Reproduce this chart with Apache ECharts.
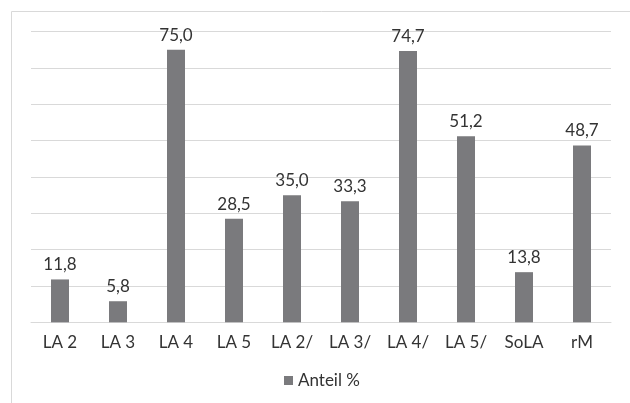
<!DOCTYPE html>
<html>
<head>
<meta charset="utf-8">
<script src="https://cdn.jsdelivr.net/npm/echarts@6/dist/echarts.min.js"></script>
<style>
  html, body { margin: 0; padding: 0; background: #fff; }
  #chart { width: 630px; height: 403px; }
</style>
</head>
<body>
<div id="chart"></div>
<script>
// Kategorien und Werte (Anteil in %)
const categories = ['LA 2', 'LA 3', 'LA 4', 'LA 5', 'LA 2/', 'LA 3/', 'LA 4/', 'LA 5/', 'SoLA', 'rM'];
const anteil = [11.8, 5.8, 75.0, 28.5, 35.0, 33.3, 74.7, 51.2, 13.8, 48.7];
const seriesName = 'Anteil %';

const chart = echarts.init(document.getElementById('chart'));
const font = 'Lato, "Noto Sans", sans-serif';
const txt = '#333333';

const option = {
    animation: false,
    textStyle: { fontFamily: font },
    graphic: [{
        type: 'rect',
        shape: { x: 11.5, y: 11.5, width: 640, height: 420 },
        style: { fill: 'none', stroke: '#d9d9d9', lineWidth: 1 },
        silent: true
    }],
    grid: { left: 31, right: 19, top: 31.7, bottom: 80.7 },
    legend: {
        bottom: 9,
        left: 279,
        itemWidth: 9,
        itemHeight: 9,
        itemGap: 5,
        icon: 'rect',
        textStyle: { fontFamily: font, fontSize: 17, color: txt },
        data: [seriesName]
    },
    xAxis: {
        type: 'category',
        data: categories,
        axisLine: { lineStyle: { color: '#d9d9d9', width: 1 } },
        axisTick: { show: false },
        axisLabel: { color: txt, fontSize: 17, margin: 12, fontFamily: font }
    },
    yAxis: {
        type: 'value',
        min: 0,
        max: 80,
        interval: 10,
        axisLabel: { show: false },
        axisLine: { show: false },
        axisTick: { show: false },
        splitLine: { lineStyle: { color: '#d9d9d9', width: 1 } }
    },
    series: [{
        name: seriesName,
        type: 'bar',
        data: anteil,
        barWidth: 18,
        itemStyle: { color: '#7a7a7d' },
        label: {
            show: true,
            position: 'top',
            distance: 6,
            color: txt,
            fontSize: 17,
            fontFamily: font,
            formatter: p => p.value.toFixed(1).replace('.', ',')
        }
    }]
};

chart.setOption(option);
</script>
</body>
</html>
